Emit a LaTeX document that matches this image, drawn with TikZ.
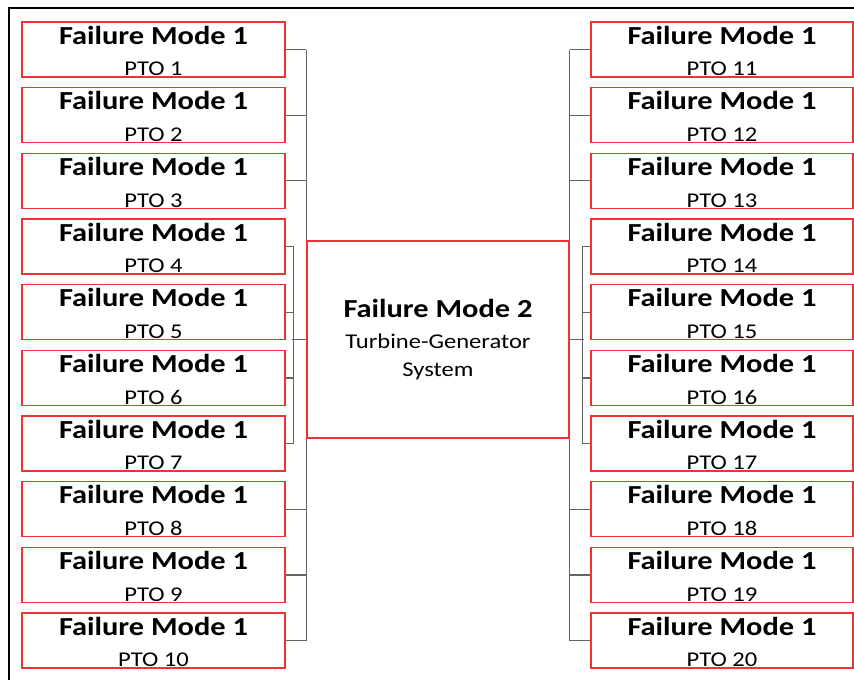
\documentclass[tikz,border=0pt]{standalone}
\usepackage{fontspec}
\setmainfont[FakeStretch=1.17]{Carlito}
\usetikzlibrary{positioning, backgrounds}

\definecolor{boxred}{RGB}{240,50,50}
\definecolor{linkgray}{RGB}{100,100,100}

\newcommand{\fmbold}{\fontsize{26}{30}\selectfont\bfseries}
\newcommand{\fmreg}{\fontsize{21}{28}\selectfont\mdseries}

\tikzset{
  fmbox/.style={draw=boxred, line width=1.4pt,
    minimum width=263pt, minimum height=55pt,
    inner ysep=4pt, text height=18pt, text depth=29pt,
    font=\fmbold},
  ptolabel/.style={anchor=base, yshift=2pt, inner sep=0pt, font=\fmreg},
  midbox/.style={draw=boxred, line width=1.4pt,
    minimum width=262pt, minimum height=197pt,
    align=center, font=\fmreg},
  link/.style={draw=linkgray, line width=1.3pt},
}

\begin{document}
\begin{tikzpicture}[x=1pt,y=-1pt]
\useasboundingbox (0,0) rectangle (854,680);
\draw[line width=2pt] (9,680) -- (9,8) -- (854,8);

\node[midbox] (mid) at (438,339.5)
  {{\fmbold Failure Mode 2}\\[3pt] Turbine-Generator\\ System};

% left column
\foreach \i in {1,...,10}{
  \node[fmbox,
    label={[ptolabel]south:PTO \i}
  ] (pto\i) at (153.5,{49.5+(\i-1)*65.67}) {Failure Mode 1};
}

% right column
\foreach \i [evaluate=\i as \j using int(\i+10)] in {1,...,10}{
  \node[fmbox,
    minimum width=262pt,
    label={[ptolabel]south:PTO \j}
  ] (pto\j) at (722,{49.5+(\i-1)*65.67}) {Failure Mode 1};
}

% Links
\begin{scope}[on background layer]
\foreach \i in {1,2,3,8,9,10}{
  \draw[link] (pto\i.east) -- (pto\i -| mid.west);
}
\draw[link] (pto1 -| mid.west) -- (pto10 -| mid.west);
\draw[link] (pto4.east) -- ++(8,0) |- (pto7.east);
\foreach \i in {5,6}{
  \draw[link] (pto\i.east) -- ++(8,0);
}
\draw[link] (mid.west) -- ++(-14,0);

\foreach \i in {11,12,13,18,19,20}{
  \draw[link] (pto\i.west) -- (pto\i -| mid.east);
}
\draw[link] (pto11 -| mid.east) -- (pto20 -| mid.east);
\draw[link] (pto14.west) -- ++(-8,0) |- (pto17.west);
\foreach \i in {15,16}{
  \draw[link] (pto\i.west) -- ++(-8,0);
}
\draw[link] (mid.east) -- ++(14,0);
\end{scope}
\end{tikzpicture}
\end{document}
